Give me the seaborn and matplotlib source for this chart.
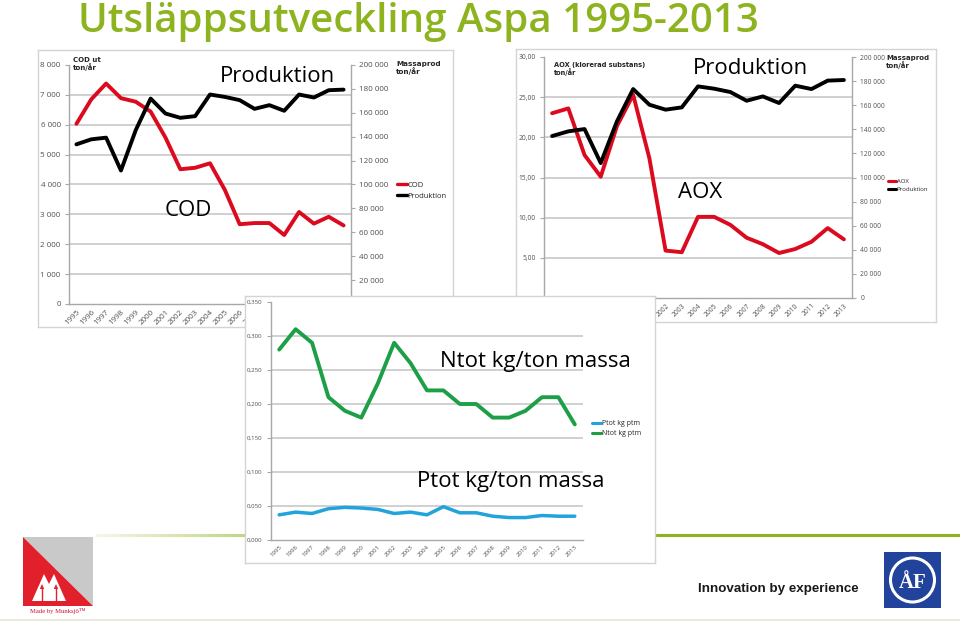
import matplotlib
matplotlib.use("Agg")
import matplotlib.pyplot as plt
import seaborn as sns
import pandas as pd
import numpy as np
from matplotlib.patches import Rectangle, Polygon, Circle
from matplotlib.lines import Line2D
from matplotlib.ticker import FuncFormatter

sns.set_theme(style="white")
plt.rcParams['font.family'] = ['Open Sans', 'DejaVu Sans']

# ---------------- data ----------------
years = list(range(1995, 2014))
cod = [6030, 6850, 7380, 6890, 6770, 6440, 5570, 4510, 4560, 4710,
       3820, 2670, 2710, 2710, 2310, 3080, 2690, 2920, 2630]
prod_cod = [133600, 137800, 139200, 111700, 145600, 171900, 159400, 155800, 157200, 175300,
            173300, 170600, 163300, 166400, 161700, 175300, 172800, 178900, 179400]
aox = [23.0, 23.6, 17.8, 15.1, 21.4, 25.3, 17.4, 5.9, 5.7, 10.1,
       10.1, 9.1, 7.5, 6.7, 5.6, 6.1, 7.0, 8.7, 7.3]
prod_aox = [134400, 138300, 140200, 112000, 146600, 173400, 160400, 156300, 158200, 175600,
            173700, 170900, 163700, 167300, 161800, 176200, 173400, 180400, 180900]
ntot = [0.28, 0.31, 0.29, 0.21, 0.19, 0.18, 0.23, 0.29, 0.26, 0.22,
        0.22, 0.20, 0.20, 0.18, 0.18, 0.19, 0.21, 0.21, 0.17]
ptot = [0.037, 0.041, 0.039, 0.046, 0.048, 0.047, 0.045, 0.039, 0.041, 0.037,
        0.049, 0.040, 0.040, 0.035, 0.033, 0.033, 0.036, 0.035, 0.035]

df1 = pd.DataFrame({"year": years, "COD": cod, "Produktion": prod_cod})
df2 = pd.DataFrame({"year": years, "AOX": aox, "Produktion": prod_aox})
df3 = pd.DataFrame({"year": years, "Ntot": ntot, "Ptot": ptot})

RED = "#dc0a1e"
BLACK = "#000000"
GREEN = "#1d9f48"
BLUE = "#22a3dc"
TITLE_GREEN = "#8db31f"
GRID = "#c4c4c4"
SPINE = "#a8a8a8"
TICKC = "#505050"

W, H = 960, 625
fig = plt.figure(figsize=(9.6, 6.25), dpi=100)


def rect(x0, y0, x1, y1):
    return [x0 / W, 1 - y1 / H, (x1 - x0) / W, (y1 - y0) / H]


# ---------------- background (slide) ----------------
bg = fig.add_axes([0, 0, 1, 1])
bg.set_xlim(0, W)
bg.set_ylim(H, 0)
bg.axis('off')
bg.text(78, 22, "Utsläppsutveckling Aspa 1995-2013", color=TITLE_GREEN,
        fontsize=29, fontweight='semibold', va='center', ha='left')
# green separator line (left part fades)
xs = np.linspace(95, 250, 40)
for i in range(len(xs) - 1):
    bg.plot(xs[i:i + 2], [535, 535], color=TITLE_GREEN, lw=2.2,
            alpha=0.1 + 0.5 * i / len(xs), solid_capstyle='butt')
bg.plot([250, 960], [535, 535], color=TITLE_GREEN, lw=2.2, solid_capstyle='butt')
bg.plot([0, 960], [620, 620], color="#e6e6d6", lw=1.2)

# Munksjö logo
bg.add_patch(Polygon([[23, 537], [93, 537], [93, 606]], closed=True, color="#c9c9c9", lw=0))
bg.add_patch(Polygon([[23, 537], [23, 606], [93, 606]], closed=True, color="#e2202c", lw=0))
bg.add_patch(Polygon([[32, 601], [44, 574], [49, 584], [54, 574], [66, 601]], closed=True,
                     color="white", lw=0))
for ax_x in (42, 56):
    bg.add_patch(Polygon([[ax_x - 2.2, 589], [ax_x + 2.2, 589], [ax_x, 584]], closed=True,
                         color="#e2202c", lw=0))
    bg.plot([ax_x, ax_x], [588, 601], color="#e2202c", lw=1.0)
bg.text(58, 611, "Made by Munksjö\u2122", color="#c8102e", fontsize=4.8,
        family=['Liberation Serif', 'DejaVu Serif'], ha='center', va='center')

# ÅF logo
bg.add_patch(Rectangle((884, 552), 57, 56, color="#22439b", lw=0))
bg.add_patch(Circle((912.5, 580), 22, fill=False, ec="white", lw=2.2))
bg.text(912.5, 583, "ÅF", color="white", fontsize=15, fontweight='bold',
        family=['Liberation Serif', 'DejaVu Serif'], ha='center', va='center')
bg.text(698, 589, "Innovation by experience", color="#1a1a1a", fontsize=9.6,
        fontweight='bold', family=['Liberation Sans Narrow', 'Liberation Sans', 'DejaVu Sans'],
        ha='left', va='center')


def panel(x0, y0, x1, y1):
    p = fig.add_axes(rect(x0, y0, x1, y1))
    p.set_facecolor('white')
    p.set_xticks([])
    p.set_yticks([])
    for s in p.spines.values():
        s.set_color("#d4d4d4")
        s.set_linewidth(1.0)
    return p


def space_fmt(v, pos):
    return f"{int(round(v)):,}".replace(",", " ")


def comma_fmt(decimals):
    return FuncFormatter(lambda v, pos: f"{v:.{decimals}f}".replace(".", ","))


def style_axes(ax, ylo, yhi, step, fs, fmt):
    ax.set_facecolor('none')
    ax.set_xlim(1994.5, 2013.5)
    ax.set_ylim(ylo, yhi)
    ax.set_yticks(np.arange(ylo, yhi + step / 2, step))
    ax.yaxis.set_major_formatter(fmt)
    ax.yaxis.grid(True, color=GRID, lw=1.1)
    ax.xaxis.grid(False)
    gl = ax.get_ygridlines()
    gl[-1].set_visible(False)
    gl[0].set_visible(False)
    ax.set_xticks(years)
    ax.set_xticklabels([str(y) for y in years], rotation=45, ha='right',
                       rotation_mode='anchor', fontsize=fs, color=TICKC)
    ax.set_xticks(np.arange(1994.5, 2014, 1), minor=True)
    ax.tick_params(axis='x', which='major', length=0, pad=3)
    ax.tick_params(axis='x', which='minor', length=2.5, color=SPINE, width=0.8, direction='out')
    ax.tick_params(axis='y', which='major', length=3, color=SPINE, width=0.8,
                   labelsize=fs, labelcolor=TICKC, pad=3, left=True)
    ax.spines['top'].set_visible(False)
    ax.spines['right'].set_visible(False)
    for s in ('left', 'bottom'):
        ax.spines[s].set_color(SPINE)
        ax.spines[s].set_linewidth(1.0)
    ax.set_xlabel("")
    ax.set_ylabel("")


def style_right(axr, yhi, step, fs):
    axr.set_ylim(0, yhi)
    axr.set_yticks(np.arange(0, yhi + step / 2, step))
    axr.yaxis.set_major_formatter(FuncFormatter(space_fmt))
    axr.tick_params(axis='y', length=3, color=SPINE, width=0.8, labelsize=fs,
                    labelcolor=TICKC, pad=3, right=True)
    for s in ('top', 'left', 'bottom'):
        axr.spines[s].set_visible(False)
    axr.spines['right'].set_color(SPINE)
    axr.spines['right'].set_linewidth(1.0)
    axr.grid(False)
    axr.set_ylabel("")


BIG = dict(fontsize=16, color='black', family=['Open Sans', 'DejaVu Sans'], va='center')

# ---------------- chart 1: COD ----------------
panel(38, 50, 453, 327)
ax1 = fig.add_axes(rect(69, 65, 351, 304))
sns.lineplot(data=df1, x="year", y="COD", ax=ax1, color=RED, lw=2.8, legend=False)
style_axes(ax1, 0, 8000, 1000, 5.8, FuncFormatter(space_fmt))
ax1r = ax1.twinx()
sns.lineplot(data=df1, x="year", y="Produktion", ax=ax1r, color=BLACK, lw=2.8, legend=False)
style_right(ax1r, 200000, 20000, 5.8)
ax1r.text(73, 57, "COD ut\nton/år", transform=bg.transData, fontsize=5, fontweight='bold',
          family=['DejaVu Sans'], va='top', ha='left', linespacing=1.0)
ax1r.text(396, 61, "Massaprod\nton/år", transform=bg.transData, fontsize=5.2, fontweight='bold',
          family=['DejaVu Sans'], va='top', ha='left', linespacing=1.0)
ax1r.legend(handles=[Line2D([], [], color=RED, lw=2.4), Line2D([], [], color=BLACK, lw=2.4)],
            labels=["COD", "Produktion"], loc='upper left',
            bbox_to_anchor=(393 / W, 1 - 178 / H), bbox_transform=fig.transFigure,
            frameon=False, fontsize=5.5, handlelength=1.3, handletextpad=0.1,
            labelspacing=0.45, borderpad=0)
ax1r.text(220, 77, "Produktion", transform=bg.transData, ha='left', **BIG)
ax1r.text(165, 211, "COD", transform=bg.transData, ha='left', **BIG)

# ---------------- chart 2: AOX ----------------
panel(516, 49, 936, 322)
ax2 = fig.add_axes(rect(544, 57, 852, 298))
sns.lineplot(data=df2, x="year", y="AOX", ax=ax2, color=RED, lw=2.8, legend=False)
style_axes(ax2, 0, 30, 5, 4.8, comma_fmt(2))
ax2r = ax2.twinx()
sns.lineplot(data=df2, x="year", y="Produktion", ax=ax2r, color=BLACK, lw=2.8, legend=False)
style_right(ax2r, 200000, 20000, 4.8)
ax2r.text(554, 62, "AOX (klorerad substans)\nton/år", transform=bg.transData, fontsize=4.8,
          fontweight='bold', family=['DejaVu Sans'], va='top', ha='left', linespacing=1.0)
ax2r.text(886, 55, "Massaprod\nton/år", transform=bg.transData, fontsize=5, fontweight='bold',
          family=['DejaVu Sans'], va='top', ha='left', linespacing=1.0)
ax2r.legend(handles=[Line2D([], [], color=RED, lw=2.2), Line2D([], [], color=BLACK, lw=2.2)],
            labels=["AOX", "Produktion"], loc='upper left',
            bbox_to_anchor=(885 / W, 1 - 176 / H), bbox_transform=fig.transFigure,
            frameon=False, fontsize=4.3, handlelength=1.4, handletextpad=0.05,
            labelspacing=0.5, borderpad=0)
ax2r.text(693, 68, "Produktion", transform=bg.transData, ha='left', **BIG)
ax2r.text(678, 192, "AOX", transform=bg.transData, ha='left', **BIG)

# ---------------- chart 3: Ntot / Ptot ----------------
panel(245, 296, 655, 563)
ax3 = fig.add_axes(rect(271, 302, 583, 540))
sns.lineplot(data=df3, x="year", y="Ptot", ax=ax3, color=BLUE, lw=2.5, legend=False)
sns.lineplot(data=df3, x="year", y="Ntot", ax=ax3, color=GREEN, lw=2.8, legend=False)
style_axes(ax3, 0, 0.35, 0.05, 4.4, comma_fmt(3))
ax3.legend(handles=[Line2D([], [], color=BLUE, lw=2.2), Line2D([], [], color=GREEN, lw=2.2)],
           labels=["Ptot kg ptm", "Ntot kg ptm"], loc='upper left',
           bbox_to_anchor=(589 / W, 1 - 417 / H), bbox_transform=fig.transFigure,
           frameon=False, fontsize=5, handlelength=1.2, handletextpad=0.1,
           labelspacing=0.4, borderpad=0)
ax3.text(440, 361, "Ntot kg/ton massa", transform=bg.transData, ha='left', **BIG)
ax3.text(417, 482, "Ptot kg/ton massa", transform=bg.transData, ha='left', **BIG)

fig.savefig("out.png", dpi=100)
